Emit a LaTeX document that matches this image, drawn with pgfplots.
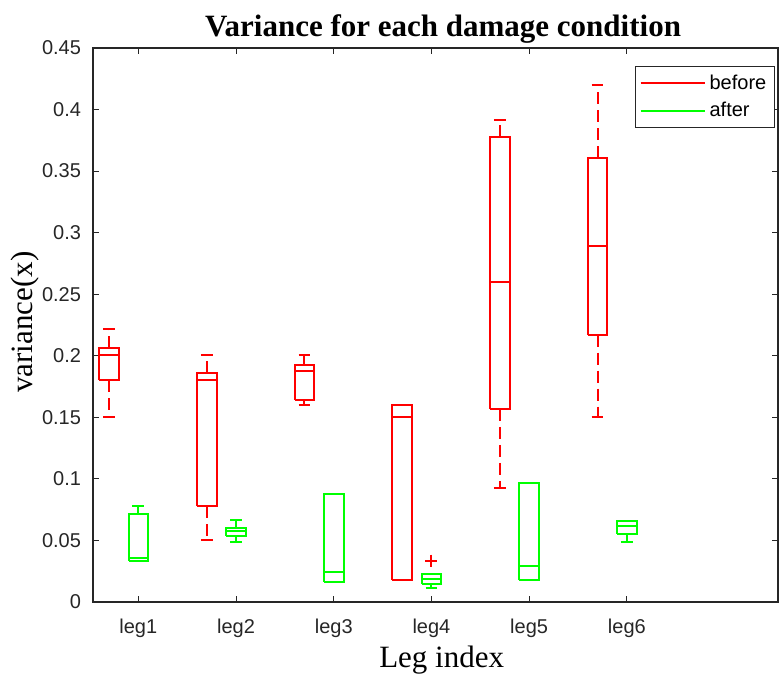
\documentclass[border=0pt]{standalone}
\usepackage{fontspec}
\setmainfont{Liberation Serif}
\newfontfamily\arial{Liberation Sans}
\usepackage{pgfplots}
\pgfplotsset{compat=1.18}
\usetikzlibrary{calc}
\definecolor{axline}{HTML}{262626}

% box: colour, position, lower whisker, q1, median, q3, upper whisker
\newcommand\bx[7]{%
  \pgfmathsetmacro\bxL{#2-0.1}\pgfmathsetmacro\bxR{#2+0.1}%
  \pgfmathsetmacro\cpL{#2-0.06}\pgfmathsetmacro\cpR{#2+0.06}%
  \addplot[color=#1, line width=1pt, forget plot] coordinates {
    (\bxL,#4) (\bxR,#4) (\bxR,#6) (\bxL,#6) (\bxL,#4) (#2,nan) (\bxL,#5) (\bxR,#5)};
  \addplot[color=#1, line width=1pt, dash pattern=on 6pt off 3pt, forget plot] coordinates {
    (#2,#6) (#2,#7) (#2,nan) (\cpL,#7) (\cpR,#7) (#2,nan)
    (#2,#4) (#2,#3) (#2,nan) (\cpL,#3) (\cpR,#3)};
}

\begin{document}
\begin{tikzpicture}
\begin{axis}[
  name=ax,
  scale only axis, width=342.5pt, height=277pt,
  xmin=0.536, xmax=7.547, ymin=0, ymax=0.45,
  unbounded coords=jump,
  xtick={1,2,3,4,5,6},
  xticklabels={leg1,leg2,leg3,leg4,leg5,leg6},
  ytick={0,0.05,0.1,0.15,0.2,0.25,0.3,0.35,0.4,0.45},
  yticklabel style={/pgf/number format/fixed,/pgf/number format/precision=2, xshift=-2.5pt},
  /pgf/number format/assume math mode=true,
  tick label style={font=\arial\fontsize{10}{12}\selectfont, text=axline},
  xticklabel style={anchor=base, yshift=-15.5pt},
  tick align=inside, major tick length=3pt,
  tick style={axline, line width=0.5pt},
  axis line style={axline, line width=0.7pt},
  title={Variance for each damage condition},
  title style={font=\bfseries\fontsize{15.5}{18}\selectfont, at={(axis description cs:0.511,1)}, anchor=base, yshift=-0.5pt},
  xlabel={Leg index},
  xlabel style={font=\fontsize{15.5}{18}\selectfont, at={(axis description cs:0.509,0)}, anchor=center, yshift=-28.8pt},
  ylabel={variance(x)},
  ylabel style={font=\fontsize{15.5}{18}\selectfont, at={(axis description cs:0,0.505)}, anchor=center, yshift=34pt},
  legend style={at={(axis description cs:0.9956,0.9675)}, anchor=north east,
    draw=axline, line width=0.7pt, font=\arial\fontsize{10}{11}\selectfont,
    inner sep=2pt, row sep=1pt, cells={anchor=west}},
  legend image code/.code={\draw[#1] (0pt,0pt) -- (32pt,0pt);},
]
\addlegendimage{color=red, line width=1pt}
\addlegendentry{before}
\addlegendimage{color=green, line width=1pt}
\addlegendentry{after}
% before (red)
\bx{red}{0.7}{0.150}{0.180}{0.2005}{0.206}{0.222}
\bx{red}{1.7}{0.0505}{0.0777}{0.180}{0.1864}{0.2008}
\bx{red}{2.7}{0.1598}{0.1641}{0.1878}{0.1927}{0.2008}
\bx{red}{3.7}{0.0179}{0.0179}{0.150}{0.1598}{0.1598}
\bx{red}{4.7}{0.0927}{0.1569}{0.2596}{0.3773}{0.3919}
\bx{red}{5.7}{0.1502}{0.2172}{0.289}{0.361}{0.4199}
% after (green)
\bx{green}{1}{0.0337}{0.0337}{0.0356}{0.0715}{0.0783}
\bx{green}{2}{0.0487}{0.0533}{0.0579}{0.0603}{0.0668}
\bx{green}{3}{0.0160}{0.0160}{0.0242}{0.0880}{0.0880}
\bx{green}{4}{0.0111}{0.0144}{0.0190}{0.0226}{0.0226}
\bx{green}{5}{0.0181}{0.0181}{0.0293}{0.0966}{0.0966}
\bx{green}{6}{0.0489}{0.0554}{0.0621}{0.0657}{0.0657}
% outlier
\addplot[color=red, only marks, mark=+, mark size=3pt, line width=1pt, forget plot] coordinates {(4,0.0337)};
\end{axis}
\pgfresetboundingbox
\path[use as bounding box] ($(ax.south west)+(-46.5pt,-35.5pt)$) rectangle ($(ax.north east)+(2.5pt,24pt)$);
\end{tikzpicture}
\end{document}
